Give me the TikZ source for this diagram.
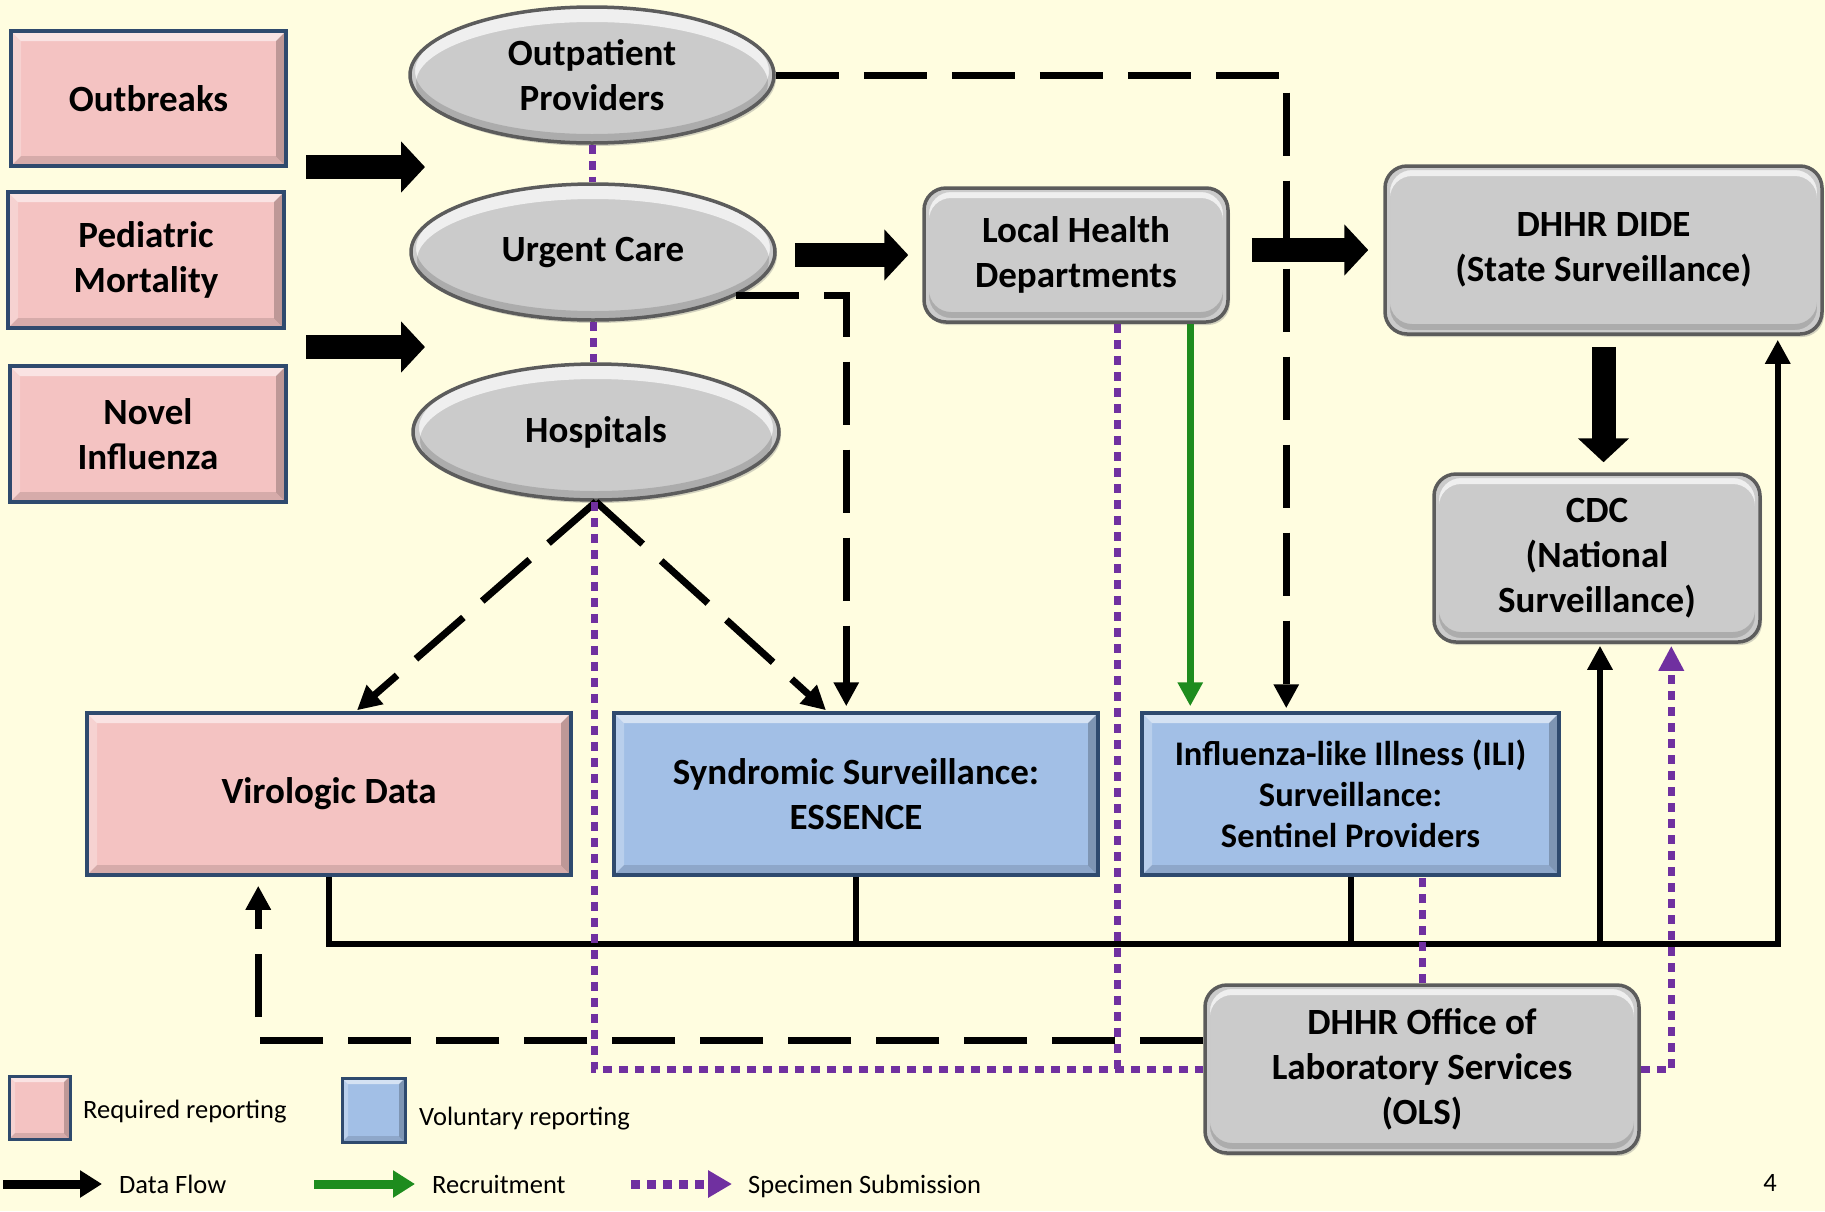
\documentclass[tikz,border=0pt]{standalone}
\usepackage{fontspec}
\setmainfont{Carlito}
\usetikzlibrary{arrows.meta,calc,shadows,shapes.geometric}

\definecolor{bgcream}{HTML}{FFFDE0}
\definecolor{reqpink}{HTML}{F4C3C2}
\definecolor{volblue}{HTML}{A2BFE6}
\definecolor{boxedge}{HTML}{2F4A6E}
\definecolor{agency}{HTML}{CBCBCB}
\definecolor{agencyedge}{HTML}{5C5C5C}
\definecolor{specimen}{HTML}{7030A0}
\definecolor{recruit}{HTML}{1E8C1E}

\tikzset{
  lbl/.style={font=\fontsize{37}{45}\selectfont\bfseries, align=center, text=black, inner sep=0pt},
  % flat bevel for square-cornered boxes
  bevel/.style={path picture={
      \coordinate (bnw) at (path picture bounding box.north west);
      \coordinate (bne) at (path picture bounding box.north east);
      \coordinate (bsw) at (path picture bounding box.south west);
      \coordinate (bse) at (path picture bounding box.south east);
      \fill[white,opacity=.55] (bnw) -- (bne) -- ([shift={(-#1,-#1)}]bne) -- ([shift={(#1,-#1)}]bnw) -- cycle;
      \fill[white,opacity=.25] (bnw) -- ([shift={(#1,-#1)}]bnw) -- ([shift={(#1,#1)}]bsw) -- (bsw) -- cycle;
      \fill[black,opacity=.12] (bsw) -- ([shift={(#1,#1)}]bsw) -- ([shift={(-#1,#1)}]bse) -- (bse) -- cycle;
      \fill[black,opacity=.22] (bne) -- (bse) -- ([shift={(-#1,#1)}]bse) -- ([shift={(-#1,-#1)}]bne) -- cycle;
  }},
  % glossy rim for rounded agency boxes
  gloss/.style={path picture={
      \coordinate (bnw) at (path picture bounding box.north west);
      \coordinate (bse) at (path picture bounding box.south east);
      \fill[white,opacity=.7,even odd rule,rounded corners=#1] (bnw) rectangle (bse)
           ([shift={(5pt,-10pt)}]bnw) rectangle ([shift={(-5pt,4pt)}]bse);
      \fill[black,opacity=.15,even odd rule,rounded corners=#1] (bnw) rectangle (bse)
           ([shift={(5pt,-4pt)}]bnw) rectangle ([shift={(-5pt,10pt)}]bse);
  }},
  reqbox/.style={lbl, rectangle, fill=reqpink, draw=boxedge, line width=3.5pt, bevel=10pt},
  volbox/.style={reqbox, fill=volblue},
  agencybox/.style={lbl, rectangle, rounded corners=22pt, fill=agency, draw=agencyedge,
      line width=3.5pt, drop shadow={shadow xshift=2pt,shadow yshift=-3pt,opacity=.35}, gloss=22pt},
  provider/.style={lbl, ellipse, minimum width=364pt, minimum height=136pt, fill=agency,
      draw=agencyedge, line width=3.5pt, drop shadow={shadow xshift=2pt,shadow yshift=-3pt,opacity=.35},
      path picture={
        \coordinate (bc) at (path picture bounding box.center);
        \fill[white,opacity=.7,even odd rule] (bc) ellipse [x radius=183pt,y radius=68pt]
             ([yshift=-8pt]bc) ellipse [x radius=176pt,y radius=61pt];
        \fill[black,opacity=.15,even odd rule] (bc) ellipse [x radius=183pt,y radius=68pt]
             ([yshift=4pt]bc) ellipse [x radius=177pt,y radius=63pt];
      }},
  dashline/.style={line width=7pt, dash pattern=on 63pt off 25pt},
  dotline/.style={specimen, line width=7pt, dash pattern=on 9pt off 7pt},
  dataline/.style={line width=6pt},
  dtip/.style={-{Triangle[width=24pt,length=24pt]}},
  blockarrow/.style={line width=24pt, -{Triangle[width=50pt,length=24pt]}},
  legtxt/.style={font=\fontsize{26.5}{32}\selectfont, anchor=base west, inner sep=0pt},
}

\begin{document}
\begin{tikzpicture}[x=1pt,y=-1pt]
\useasboundingbox (0,0) rectangle (1825,1211);
\fill[bgcream] (0,0) rectangle (1825,1211);

% reporting sources
\node[reqbox, minimum width=275pt, minimum height=135pt] (outb) at (148.5,98.5) {Outbreaks};
\node[reqbox, minimum width=276pt, minimum height=136pt] (pedi) at (146,260) {Pediatric\\Mortality};
\node[reqbox, minimum width=276pt, minimum height=136pt] (novel) at (148,434) {Novel\\Influenza};

% providers
\node[provider] (outp) at (592,75) {Outpatient\\Providers};
\node[provider] (urgent) at (593,252) {Urgent Care};
\node[provider, minimum width=366pt] (hosp) at (596,432) {Hospitals};

% agencies
\node[agencybox, minimum width=304pt, minimum height=134pt] (lhd) at (1076,255) {Local Health\\Departments};
\node[agencybox, minimum width=437pt, minimum height=168pt] (dide) at (1603.5,250) {DHHR DIDE\\(State Surveillance)};
\node[agencybox, minimum width=326pt, minimum height=168pt] (cdc) at (1597,558) {CDC\\(National\\Surveillance)};
\node[agencybox, minimum width=434pt, minimum height=168pt] (ols) at (1422,1069) {DHHR Office of\\Laboratory Services\\(OLS)};

% surveillance systems
\node[reqbox, minimum width=484pt, minimum height=162pt] (viro) at (329,794) {Virologic Data};
\node[volbox, minimum width=484pt, minimum height=162pt] (ess) at (856,794) {Syndromic Surveillance:\\ESSENCE};
\node[volbox, minimum width=417pt, minimum height=162pt, font=\fontsize{34.5}{41}\selectfont\bfseries] (ili) at (1350.5,794) {Influenza-like Illness (ILI)\\Surveillance:\\Sentinel Providers};

% block arrows
\coordinate (ba1s) at (306,167); \coordinate (ba1e) at (425,167);
\coordinate (ba2s) at (306,347); \coordinate (ba2e) at (425,347);
\draw[blockarrow] (ba1s) -- (ba1e);
\draw[blockarrow] (ba2s) -- (ba2e);
\draw[blockarrow] ($(urgent.east |- lhd.west)+(18,0)$) -- ($(lhd.west)+(-14,0)$);
\draw[blockarrow] ($(lhd.east |- dide.west)+(22,0)$) -- ($(dide.west)+(-15,0)$);
\draw[blockarrow] ($(dide.south)+(0,11)$) -- ($(dide.south |- cdc.north)+(0,-10)$);

% data flow bus
\coordinate (busR) at ($(dide.south east)+(-46,608)$);
\draw[dataline, dtip] (viro.south) |- (busR) -- ($(busR |- dide.south)+(0,4)$);
\draw[dataline] (ess.south) -- (ess.south |- busR);
\draw[dataline] (ili.south) -- (ili.south |- busR);
\draw[dataline, dtip] ($(cdc.south |- busR)+(3,0)$) -- ($(cdc.south)+(3,2)$);

% dashed reporting paths
\draw[dashline, dtip] (outp.east) -| ($(ili.north west)+(146,-3)$);
\draw[dashline, dtip] (urgent.-17) -| ($(ess.north west)+(234,-5)$);
\draw[dashline, dtip] (hosp.south) -- ($(viro.north)+(28,-1)$);
\draw[dashline, dtip] (hosp.south) -- ($(ess.north)+(-30,-1)$);
\draw[dashline, dtip] ($(ols.west)+(0,-29)$) -| ($(viro.south west)+(173,9)$);

% specimen submission
\draw[dotline] (outp.south) -- (outp.south |- urgent.north);
\draw[dotline] (urgent.south) -- (urgent.south |- hosp.north);
\draw[dotline] ($(hosp.south)+(-2,0)$) |- (ols.west);
\coordinate (lhdsp) at ($(lhd.south west)+(195,0)$);
\draw[dotline] (lhdsp) -- (lhdsp |- ols.west);
\draw[dotline] (ols.north) -- (ols.north |- ili.south);
\draw[dotline, -{Triangle[width=24pt,length=25pt]}] (ols.east) -| ($(cdc.south west)+(239,2)$);

% recruitment
\coordinate (lhdrec) at ($(lhd.south west)+(268,0)$);
\draw[recruit, line width=6.5pt, -{Triangle[width=24pt,length=24pt]}] (lhdrec) -- ($(lhdrec |- ili.north)+(0,-5)$);

% legend
\node[reqbox, minimum width=61pt, minimum height=63pt, line width=3pt, bevel=6pt] (legreq) at (39.5,1107.5) {};
\node[legtxt] (legreqtxt) at (83,1118) {Required reporting};
\node[volbox, minimum width=63pt, minimum height=64pt, line width=3pt, bevel=6pt] (legvol) at (373.5,1110) {};
\node[legtxt] (legvoltxt) at (419,1125) {Voluntary reporting};

\node[legtxt] (legdftxt) at (119,1193) {Data Flow};
\coordinate (legdf) at (3,1184);
\coordinate (legdfend) at (102,1184);
\draw[line width=9pt, -{Triangle[width=26pt,length=22pt]}] (legdf) -- (legdfend);
\node[legtxt] (legrectxt) at (432,1193) {Recruitment};
\coordinate (legrec) at (314,1184);
\coordinate (legrecend) at (415,1184);
\draw[recruit, line width=9pt, -{Triangle[width=26pt,length=22pt]}] (legrec) -- (legrecend);
\node[legtxt] (legspectxt) at (748,1193) {Specimen Submission};
\coordinate (legspec) at (631,1184);
\coordinate (legspecend) at (732,1184);
\draw[specimen, line width=9pt, dash pattern=on 9pt off 7pt, -{Triangle[width=26pt,length=24pt]}] (legspec) -- (legspecend);

\node[font=\fontsize{26.5}{32}\selectfont, inner sep=0pt, anchor=base] (pgnum) at (1770,1191) {4};
\end{tikzpicture}
\end{document}
